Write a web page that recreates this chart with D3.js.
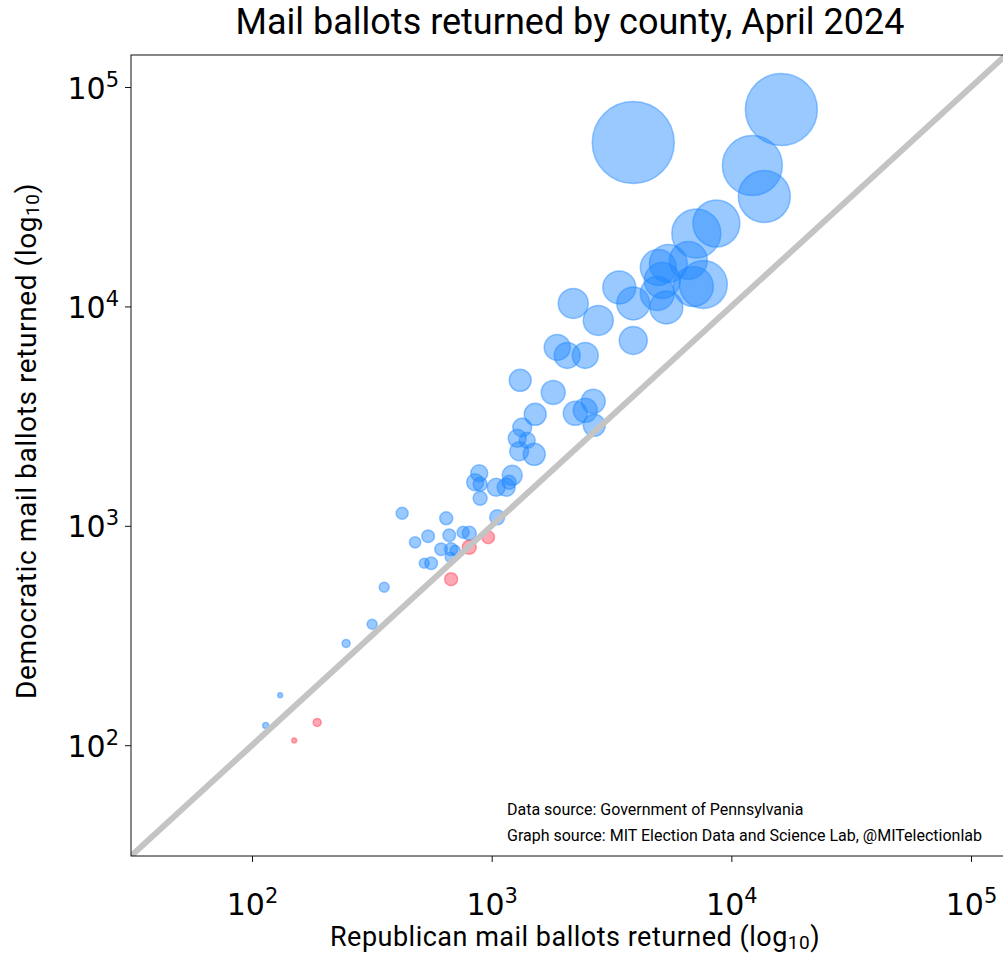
<!DOCTYPE html>
<html>
<head>
<meta charset="utf-8">
<script src="https://cdn.jsdelivr.net/npm/d3@7"></script>
<style>
  body { margin: 0; background: #fff; }
  text { font-family: Roboto, "Liberation Sans", sans-serif; }
  .tick text { font-family: "DejaVu Sans", sans-serif; }
</style>
</head>
<body>
<div id="chart"></div>
<script>
// Republican / Democratic mail ballots returned per county
var repBallots = [114, 131, 150, 187, 247, 317, 356, 423, 646, 543, 479, 665, 760, 806, 615, 677, 704, 671, 806, 523, 559, 967, 677, 1054, 895,
    887, 853, 895, 1044, 1149, 1218, 1183, 1341, 1278, 1407, 1302, 1505, 1315, 1806, 1519, 2232, 2457, 2653, 2679,
    1877, 2066, 2457, 3897, 2189, 2784, 4958, 5458, 6614, 5151, 4910, 7640, 6940, 3408, 3897, 5354,
    8660, 7143, 12240, 13730, 16170, 3897];
var demBallots = [123, 169, 105, 127, 291, 356, 525, 1140, 1082, 896, 841, 905, 934, 924, 782, 782, 773, 719, 798, 675, 675, 886, 571, 1093, 1335,
    1735, 1579, 1546, 1497, 1497, 1699, 1579, 2810, 2504, 2452, 2185, 2117, 4602, 4057, 3221, 3255, 3359, 3692, 2871,
    6506, 5981, 5981, 6999, 10320, 8634, 15060, 15700, 16210, 13140, 11460, 12600, 12330, 12210, 10320, 9895,
    23880, 21510, 43890, 31700, 79000, 55870];
var markerArea = [9, 6, 6, 16, 16, 25, 25, 36, 42, 40, 32, 40, 36, 49, 40, 42, 25, 25, 49, 25, 40, 40, 42, 56, 49,
    72, 72, 49, 81, 81, 100, 49, 90, 81, 64, 90, 121, 121, 144, 121, 144, 144, 144, 121,
    169, 169, 169, 196, 225, 225, 324, 361, 361, 324, 289, 576, 400, 272, 272, 272,
    552, 600, 900, 676, 1296, 1681];
var tickValues = [1e2, 1e3, 1e4, 1e5];

var width = 1003, height = 956;
var plot = {left: 131, right: 1006, top: 55, bottom: 856};
var lo = Math.pow(10, 1.495), hi = Math.pow(10, 5.146);

var data = repBallots.map(function (r, i) {
    return {rep: r, dem: demBallots[i], area: markerArea[i]};
});

var svg = d3.select("#chart")
    .append("svg")
    .attr("width", width)
    .attr("height", height);

var x = d3.scaleLog().domain([lo, hi]).range([plot.left, plot.right]);
var y = d3.scaleLog().domain([lo, hi]).range([plot.bottom, plot.top]);
var r = d3.scaleSqrt().domain([0, 1681]).range([0, 41]);

svg.append("clipPath").attr("id", "clip")
    .append("rect")
    .attr("x", plot.left).attr("y", plot.top)
    .attr("width", plot.right - plot.left).attr("height", plot.bottom - plot.top);

var inner = svg.append("g").attr("clip-path", "url(#clip)");

// bubbles
inner.append("g")
    .selectAll("circle")
    .data(data)
    .enter()
    .append("circle")
    .attr("cx", function (d) { return x(d.rep); })
    .attr("cy", function (d) { return y(d.dem); })
    .attr("r", function (d) { return r(d.area); })
    .attr("fill", function (d) { return d.dem > d.rep ? "#1e88ff" : "#ff3b55"; })
    .attr("fill-opacity", 0.45)
    .attr("stroke", function (d) { return d.dem > d.rep ? "#1e88ff" : "#ff3b55"; })
    .attr("stroke-opacity", 0.45)
    .attr("stroke-width", 1.5);

// equal line, drawn on top of the bubbles
inner.append("line")
    .attr("x1", x(lo)).attr("y1", y(lo))
    .attr("x2", x(hi)).attr("y2", y(hi))
    .attr("stroke", "#c4c4c4")
    .attr("stroke-width", 6);

// frame
svg.append("rect")
    .attr("x", plot.left).attr("y", plot.top)
    .attr("width", plot.right - plot.left).attr("height", plot.bottom - plot.top)
    .attr("fill", "none")
    .attr("stroke", "#111")
    .attr("stroke-width", 1);

function power(v) { return Math.round(Math.log10(v)); }

var xAxis = svg.append("g")
    .attr("transform", "translate(0," + plot.bottom + ")")
    .call(d3.axisBottom(x).tickValues(tickValues).tickSize(6).tickFormat(""));
xAxis.select(".domain").remove();
xAxis.selectAll(".tick line").attr("stroke", "#111");
xAxis.selectAll(".tick text")
    .attr("y", 59).attr("dy", 0)
    .attr("font-size", 30).attr("fill", "#000")
    .each(function (d) {
        var t = d3.select(this).text("10");
        t.append("tspan").attr("dy", -12).attr("font-size", 21).text(power(d));
    });

var yAxis = svg.append("g")
    .attr("transform", "translate(" + plot.left + ",0)")
    .call(d3.axisLeft(y).tickValues(tickValues).tickSize(6).tickFormat(""));
yAxis.select(".domain").remove();
yAxis.selectAll(".tick line").attr("stroke", "#111");
yAxis.selectAll(".tick text")
    .attr("x", -12).attr("dy", 11)
    .attr("font-size", 30).attr("fill", "#000")
    .each(function (d) {
        var t = d3.select(this).text("10");
        t.append("tspan").attr("dy", -12).attr("font-size", 21).text(power(d));
    });

// title and labels
svg.append("text")
    .attr("x", 570).attr("y", 34)
    .attr("text-anchor", "middle")
    .attr("font-size", 36)
    .text("Mail ballots returned by county, April 2024");

var xl = svg.append("text")
    .attr("x", 575).attr("y", 946)
    .attr("text-anchor", "middle")
    .attr("font-size", 27)
    .attr("letter-spacing", 0.5)
    .text("Republican mail ballots returned (log");
xl.append("tspan").attr("font-size", 19).attr("dy", 3).text("10");
xl.append("tspan").attr("dy", -3).text(")");

var yl = svg.append("text")
    .attr("transform", "translate(36,441) rotate(-90)")
    .attr("text-anchor", "middle")
    .attr("font-size", 28)
    .attr("letter-spacing", 0.6)
    .text("Democratic mail ballots returned (log");
yl.append("tspan").attr("font-size", 19).attr("dy", 3).text("10");
yl.append("tspan").attr("dy", -3).text(")");

svg.append("text")
    .attr("x", 507).attr("y", 815)
    .attr("font-size", 16)
    .text("Data source: Government of Pennsylvania");
svg.append("text")
    .attr("x", 507).attr("y", 841)
    .attr("font-size", 16)
    .text("Graph source: MIT Election Data and Science Lab, @MITelectionlab");
</script>
</body>
</html>
